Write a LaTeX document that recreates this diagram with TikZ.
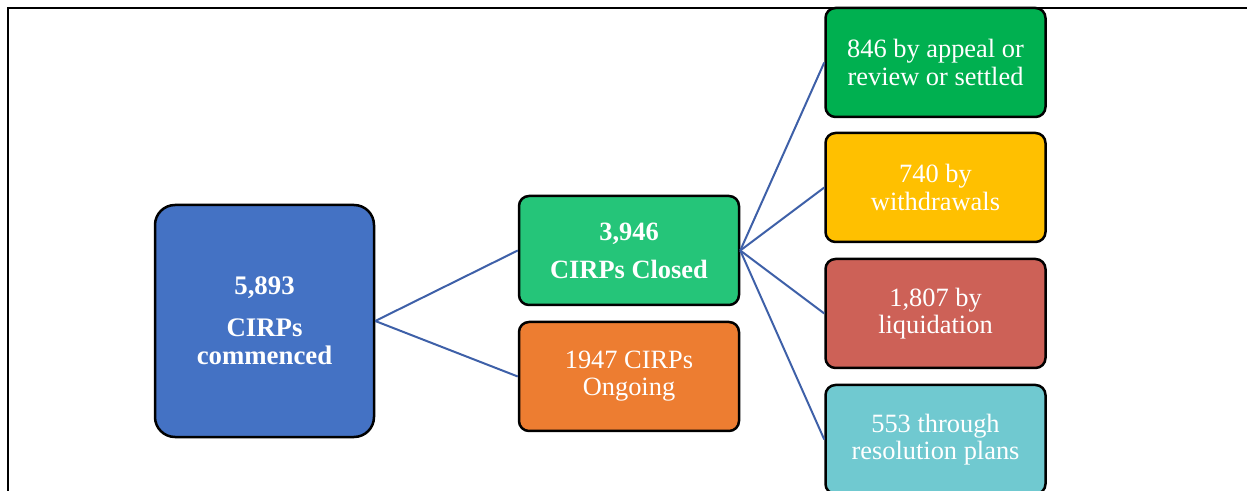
\documentclass[tikz,border=0pt]{standalone}
\usepackage{fontspec}
\setmainfont{Liberation Serif}
\usetikzlibrary{positioning}
\definecolor{cblue}{HTML}{4472C4}
\definecolor{cclosed}{HTML}{25C579}
\definecolor{congoing}{HTML}{ED7D31}
\definecolor{cappeal}{HTML}{00B050}
\definecolor{cwithdraw}{HTML}{FFC000}
\definecolor{cliquid}{HTML}{CD6157}
\definecolor{cresol}{HTML}{70C9D0}
\definecolor{cline}{HTML}{3E60A8}
\begin{document}
\begin{tikzpicture}[
	x=0.5pt, y=-0.5pt,
	thick,
	font=\fontsize{13.2}{13.6}\selectfont
]
\tikzset{
    bignode/.style = {draw=black, line width=1.25pt, rounded corners=10pt, text=white, align=center,
                      minimum width=109.5pt, minimum height=116pt, inner sep=0pt,
                      font=\fontsize{13.4}{14}\selectfont\bfseries},
    mynode/.style = {draw=black, line width=1.25pt, rounded corners=5pt, text=white, align=center,
                     minimum width=110pt, minimum height=54.5pt, inner sep=0pt},
    edgen/.style = {-, line width=1pt, draw=cline}
}
\useasboundingbox (0,0) rectangle (1247,491);
\draw[line width=1pt] (8,491) -- (8,8) -- (1247,8);
%
\node[bignode, fill=cblue] at (264.5,321.0) (t) {5,893\\[7pt]CIRPs\\commenced};
\node[mynode, fill=cclosed, font=\fontsize{13.2}{14}\selectfont\bfseries] at (629.0,250.5) (c) {3,946\\[5pt]CIRPs Closed};
\node[mynode, fill=congoing] at (629.0,376.5) (o) {1947 CIRPs\\Ongoing};
%
\node[mynode, fill=cappeal] at (935.5,62.5) (a) {846 by appeal or\\review or settled};
\node[mynode, fill=cwithdraw] at (935.5,187.5) (w) {740 by\\withdrawals};
\node[mynode, fill=cliquid] at (935.5,313.5) (l) {1,807 by\\liquidation};
\node[mynode, fill=cresol] at (935.5,439.5) (r) {553 through\\resolution plans};
%
\draw[edgen] (t.east) -- (c.west);
\draw[edgen] (t.east) -- (o.west);
%
\draw[edgen] (c.east) -- (a.west);
\draw[edgen] (c.east) -- (w.west);
\draw[edgen] (c.east) -- (l.west);
\draw[edgen] (c.east) -- (r.west);
\end{tikzpicture}
\end{document}
